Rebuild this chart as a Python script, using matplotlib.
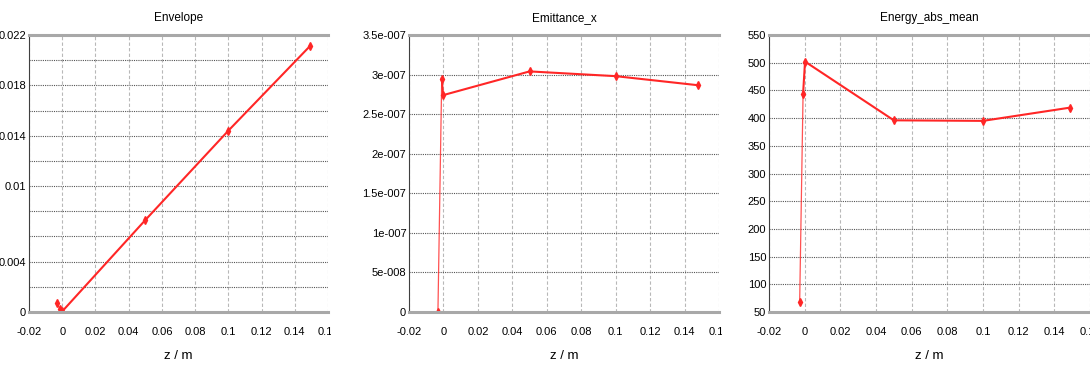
import numpy as np
import matplotlib
matplotlib.use("Agg")
import matplotlib.pyplot as plt
from matplotlib.transforms import Bbox, TransformedBbox

# data
zEnv = [-0.0032, -0.0012, 0.0, 0.05, 0.1, 0.149]
envelope = [0.0007, 0.0002, 0.00005, 0.0073, 0.0144, 0.0211]

zEmit = [-0.0032, -0.001, -0.0002, 0.05, 0.1, 0.148]
emittanceX = [0.0, 2.95e-7, 2.74e-7, 3.04e-7, 2.98e-7, 2.865e-7]

zEnergy = [-0.0028, -0.0009, 0.0002, 0.05, 0.1, 0.149]
energyAbsMean = [68, 443, 502, 396, 395, 419]

xTicks = [-0.02, 0, 0.02, 0.04, 0.06, 0.08, 0.1, 0.12, 0.14, 0.16]
xTickLabels = ["-0.02", "0", "0.02", "0.04", "0.06", "0.08", "0.1", "0.12", "0.14", "0.16"]

envTicks = [0, 0.002, 0.004, 0.006, 0.008, 0.01, 0.012, 0.014, 0.016, 0.018, 0.02, 0.022]
envTickLabels = ["0", "", "0.004", "", "", "0.01", "", "0.014", "", "0.018", "", "0.022"]

emitTicks = [0, 5e-8, 1e-7, 1.5e-7, 2e-7, 2.5e-7, 3e-7, 3.5e-7]
emitTickLabels = ["0", "5e-008", "1e-007", "1.5e-007", "2e-007", "2.5e-007", "3e-007", "3.5e-007"]

energyTicks = list(range(50, 551, 50))
energyTickLabels = [str(v) for v in energyTicks]

plt.rcParams["font.family"] = ["Liberation Sans Narrow", "Liberation Sans", "DejaVu Sans"]
LINE = "#ff2626"
FS = 8


def stylePanel(fig, ax, title, yTicks, yLabels, yLim, clipRight):
    ax.set_title(title, fontsize=FS + 0.5, pad=10)
    ax.set_xlim(-0.02, 0.16)
    ax.set_ylim(*yLim)
    ax.set_xticks(xTicks)
    ax.set_xticklabels(xTickLabels, fontsize=FS)
    ax.set_yticks(yTicks)
    ax.set_yticklabels(yLabels, fontsize=FS)
    ax.set_xlabel("z / m", fontsize=FS + 1.5, labelpad=9)
    ax.tick_params(axis="x", length=0, pad=11)
    ax.tick_params(axis="y", length=0, pad=2)
    ax.yaxis.grid(True, color="#555555", linestyle=(0, (1, 1)), linewidth=0.8)
    ax.xaxis.grid(True, color="#b8b8b8", linestyle=(0, (3, 2)), linewidth=0.8)
    ax.set_axisbelow(True)
    ax.spines["right"].set_visible(False)
    ax.spines["left"].set_color("#404040")
    ax.spines["left"].set_linewidth(0.8)
    for s in ("top", "bottom"):
        ax.spines[s].set_color("#a8a8a8")
        ax.spines[s].set_linewidth(2.2)
    # the last x label is cut off in the original widget
    box = TransformedBbox(Bbox.from_extents(0, 0, clipRight, 1), fig.transFigure)
    for lbl in ax.get_xticklabels():
        lbl.set_clip_on(True)
        lbl.set_clip_box(box)


def drawSeries(ax, z, y):
    ax.plot(z[:2], y[:2], color=LINE, linewidth=0.9, alpha=0.8)
    ax.plot(z[1:], y[1:], color=LINE, linewidth=1.5)
    ax.plot(z, y, linestyle="none", marker="d", markersize=4, color=LINE)


def main():
    fig = plt.figure(figsize=(10.9, 3.69), dpi=100)
    ax1 = fig.add_axes([29 / 1090, 1 - 312 / 369, 299 / 1090, 277 / 369])
    ax2 = fig.add_axes([409 / 1090, 1 - 312 / 369, 310 / 1090, 277 / 369])
    ax3 = fig.add_axes([769 / 1090, 1 - 312 / 369, 321 / 1090, 277 / 369])

    drawSeries(ax1, zEnv, envelope)
    stylePanel(fig, ax1, "Envelope", envTicks, envTickLabels, (0, 0.022), 331 / 1090)

    drawSeries(ax2, zEmit, emittanceX)
    stylePanel(fig, ax2, "Emittance_x", emitTicks, emitTickLabels, (0, 3.5e-7), 722 / 1090)

    drawSeries(ax3, zEnergy, energyAbsMean)
    stylePanel(fig, ax3, "Energy_abs_mean", energyTicks, energyTickLabels, (50, 550), 1.0)

    fig.savefig("out.png", dpi=100)


if __name__ == "__main__":
    main()
